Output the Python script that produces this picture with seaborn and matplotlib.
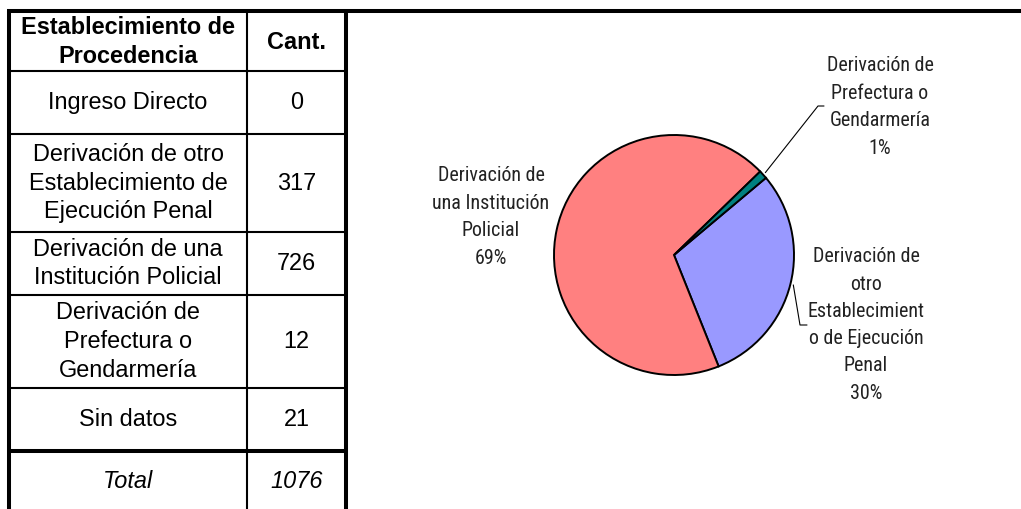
import numpy as np
import matplotlib
matplotlib.use('Agg')
import matplotlib.pyplot as plt
import seaborn as sns

# Table data
origenes = ['Ingreso Directo',
            'Derivación de otro\nEstablecimiento de\nEjecución Penal',
            'Derivación de una\nInstitución Policial',
            'Derivación de\nPrefectura o\nGendarmería',
            'Sin datos']
cantidades = [0, 317, 726, 12, 21]
total = 1076

# Pie data (Sin datos not charted)
pie_valores = [0, 317, 726, 12]
pie_etiquetas = ['Ingreso Directo',
                 'Derivación de\notro\nEstablecimient\no de Ejecución\nPenal',
                 'Derivación de\nuna Institución\nPolicial',
                 'Derivación de\nPrefectura o\nGendarmería']
pie_colores = ['#FFFF99', '#9999FF', '#FF8080', '#008080']

sns.set_theme(style='white')
plt.rcParams['font.family'] = ['Liberation Sans', 'DejaVu Sans']
plt.rcParams['text.color'] = 'black'

W, H = 1021, 509
fig = plt.figure(figsize=(W / 100, H / 100), dpi=100)
fig.patch.set_facecolor('white')

# overlay axes in pixel coordinates
ax = fig.add_axes([0, 0, 1, 1])
ax.set_xlim(0, W)
ax.set_ylim(H, 0)
ax.axis('off')

# ---- table ----
row_edges = [71, 134, 232, 295, 388, 451]
x_left, x_mid, x_right = 9, 247, 346
thick, thin = 2.9, 1.5

ax.plot([x_left - 2, W], [11, 11], color='black', lw=thick, solid_capstyle='butt')
ax.plot([x_left, x_left], [11, H], color='black', lw=thick, solid_capstyle='butt')
ax.plot([x_right, x_right], [11, H], color='black', lw=thick, solid_capstyle='butt')
ax.plot([x_mid, x_mid], [11, H], color='black', lw=thin, solid_capstyle='butt')
for i, y in enumerate(row_edges):
    lw = thick if i == len(row_edges) - 1 else thin
    ax.plot([x_left, x_right], [y, y], color='black', lw=lw, solid_capstyle='butt')

c1 = (x_left + x_mid) / 2
c2 = (x_mid + x_right) / 2
fs = 16.9
ax.text(c1, 42, 'Establecimiento de\nProcedencia', ha='center', va='center',
        fontsize=fs, fontweight='bold', linespacing=1.33)
ax.text(c2, 42, 'Cant.', ha='center', va='center', fontsize=fs, fontweight='bold')

for nombre, cant, top, bot in zip(origenes, cantidades, row_edges[:-1], row_edges[1:]):
    yc = (top + bot) / 2
    ax.text(c1, yc, nombre, ha='center', va='center', fontsize=fs, linespacing=1.33)
    ax.text(c2, yc, str(cant), ha='center', va='center', fontsize=fs)
ax.text(c1, 481, 'Total', ha='center', va='center', fontsize=fs, style='italic')
ax.text(c2, 481, str(total), ha='center', va='center', fontsize=fs, style='italic')

# ---- pie ----
cx, cy, R = 674, 255, 123
half = 150
axp = fig.add_axes([(cx - half) / W, (H - cy - half) / H, 2 * half / W, 2 * half / H])
lim = half / R
axp.set_xlim(-lim, lim)
axp.set_ylim(-lim, lim)
axp.axis('off')
wedges, _ = axp.pie(pie_valores, colors=pie_colores, startangle=40, counterclock=False,
                    radius=1, wedgeprops=dict(edgecolor='black', linewidth=1.4))

total_pie = sum(pie_valores)
narrow = ['Roboto Condensed', 'Liberation Sans', 'DejaVu Sans']
lab_fs = 14.4


def borde(w):
    ang = np.deg2rad((w.theta1 + w.theta2) / 2)
    return cx + R * np.cos(ang), cy - R * np.sin(ang)


def pct(v):
    return '{:.0f}%'.format(100 * v / total_pie)


# Institucion Policial (left)
ax.text(491, 217, pie_etiquetas[2] + '\n' + pct(pie_valores[2]), ha='center', va='center',
        fontsize=lab_fs, family=narrow, color='#222222', linespacing=1.57)

# Prefectura (top right) with leader
ax.text(880, 107, pie_etiquetas[3] + '\n' + pct(pie_valores[3]), ha='center', va='center',
        fontsize=lab_fs, family=narrow, color='#222222', linespacing=1.57)
x0, y0 = borde(wedges[3])
ax.plot([x0, 818, 824], [y0, 106, 106], color='black', lw=0.8)

# Otro establecimiento (right) with leader
ax.text(866, 325, pie_etiquetas[1] + '\n' + pct(pie_valores[1]), ha='center', va='center',
        fontsize=lab_fs, family=narrow, color='#222222', linespacing=1.55)
x0, y0 = borde(wedges[1])
ax.plot([x0, 800, 807], [y0, 325, 325], color='black', lw=0.8)

fig.savefig('out.png', dpi=100, facecolor='white')
